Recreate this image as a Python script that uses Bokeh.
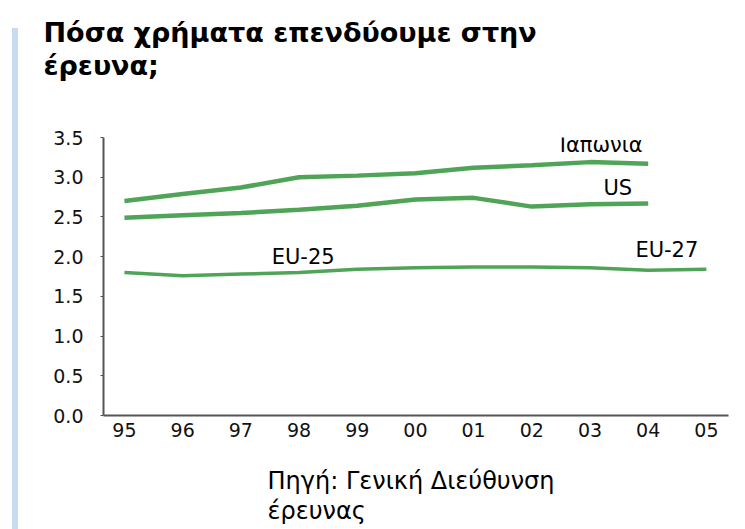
from bokeh.plotting import figure
from bokeh.layouts import row
from bokeh.models import Label, FixedTicker, LinearAxis, CustomJSTickFormatter, Title, Div
from bokeh.embed import file_html
from bokeh.resources import INLINE

years = ["95", "96", "97", "98", "99", "00", "01", "02", "03", "04", "05"]
japan = [2.70, 2.79, 2.87, 3.00, 3.02, 3.05, 3.12, 3.15, 3.19, 3.17]
us = [2.49, 2.52, 2.55, 2.59, 2.64, 2.72, 2.74, 2.63, 2.66, 2.67]
eu = [1.80, 1.76, 1.78, 1.80, 1.84, 1.86, 1.87, 1.87, 1.86, 1.83, 1.84]
y_ticks = [0.0, 0.5, 1.0, 1.5, 2.0, 2.5, 3.0, 3.5]
title_lines = ["Πόσα χρήματα επενδύουμε στην", "έρευνα;"]
source_lines = ["Πηγή: Γενική Διεύθυνση", "έρευνας"]

FONT = "DejaVu Sans"
GREEN = "#3d9a45"

# thin decorative strip on the left
strip = Div(text="", width=6, height=501, margin=(28, 2, 0, 12),
            styles={"background-color": "#c8dbef"})

p = figure(width=725, height=529, output_backend="svg", toolbar_location=None, title=None,
           x_range=(-0.36, 10.38), y_range=(0, 3.5),
           min_border_left=83, min_border_right=17, min_border_top=137, min_border_bottom=114)
p.background_fill_color = "white"
p.border_fill_color = "white"
p.outline_line_color = None
p.xgrid.visible = False
p.ygrid.visible = False

idx = list(range(len(years)))
p.line(idx[:len(japan)], japan, line_color=GREEN, line_width=4.5, line_alpha=0.9)
p.line(idx[:len(us)], us, line_color=GREEN, line_width=4.5, line_alpha=0.9)
p.line(idx[:len(eu)], eu, line_color=GREEN, line_width=3.5, line_alpha=0.9)

p.xaxis.ticker = FixedTicker(ticks=idx)
p.xaxis.major_label_overrides = {i: y for i, y in enumerate(years)}
p.yaxis.ticker = FixedTicker(ticks=y_ticks)
p.yaxis.formatter = CustomJSTickFormatter(code="return tick.toFixed(1);")

for ax in (p.xaxis[0], p.yaxis[0]):
    ax.axis_line_color = "#555555"
    ax.axis_line_width = 2
    ax.major_label_text_font = FONT
    ax.major_label_text_font_size = "19px"
    ax.major_label_text_color = "#111111"
    ax.minor_tick_line_color = None
p.xaxis.major_tick_line_color = None
p.xaxis.major_tick_out = 0
p.xaxis.major_tick_in = 0
p.xaxis.major_label_standoff = 7
p.yaxis.major_tick_line_color = "#555555"
p.yaxis.major_tick_out = 3
p.yaxis.major_tick_in = 0
p.yaxis.major_label_standoff = 17


def spacer_axis(size):
    # an invisible axis (white tick on the white border) that only reserves space
    a = LinearAxis(ticker=FixedTicker(ticks=[10.3]), major_label_overrides={10.3: ""})
    a.axis_line_color = None
    a.major_tick_line_color = "white"
    a.major_tick_line_width = 1
    a.minor_tick_line_color = None
    a.major_tick_out = size
    a.major_tick_in = 0
    a.major_label_standoff = 0
    a.major_label_text_font_size = "1px"
    return a


def text_title(t, size, bold, offset):
    return Title(text=t, align="left", offset=offset, standoff=0,
                 text_font=FONT, text_font_size=size,
                 text_font_style="bold" if bold else "normal", text_color="black")

# title: spacer nearest the frame, then line 2, then line 1
p.add_layout(spacer_axis(57), "above")
p.add_layout(text_title(title_lines[1], "27px", True, -60), "above")
p.add_layout(text_title(title_lines[0], "27px", True, -60), "above")

# source below the x axis
p.add_layout(spacer_axis(25), "below")
p.add_layout(text_title(source_lines[0], "24px", False, 164), "below")
p.add_layout(text_title(source_lines[1], "24px", False, 164), "below")


def lab(x, y, t, size):
    p.add_layout(Label(x=x, y=y, text=t, text_font=FONT, text_font_size=size,
                       text_color="black", text_baseline="alphabetic"))

lab(7.48, 3.40, "Ιαπωνια", "21px")
lab(8.23, 2.86, "US", "21px")
lab(2.53, 2.00, "EU-25", "21px")
lab(8.78, 2.08, "EU-27", "21px")

layout = row(strip, p)
open("out.html", "w").write(file_html(layout, INLINE))
